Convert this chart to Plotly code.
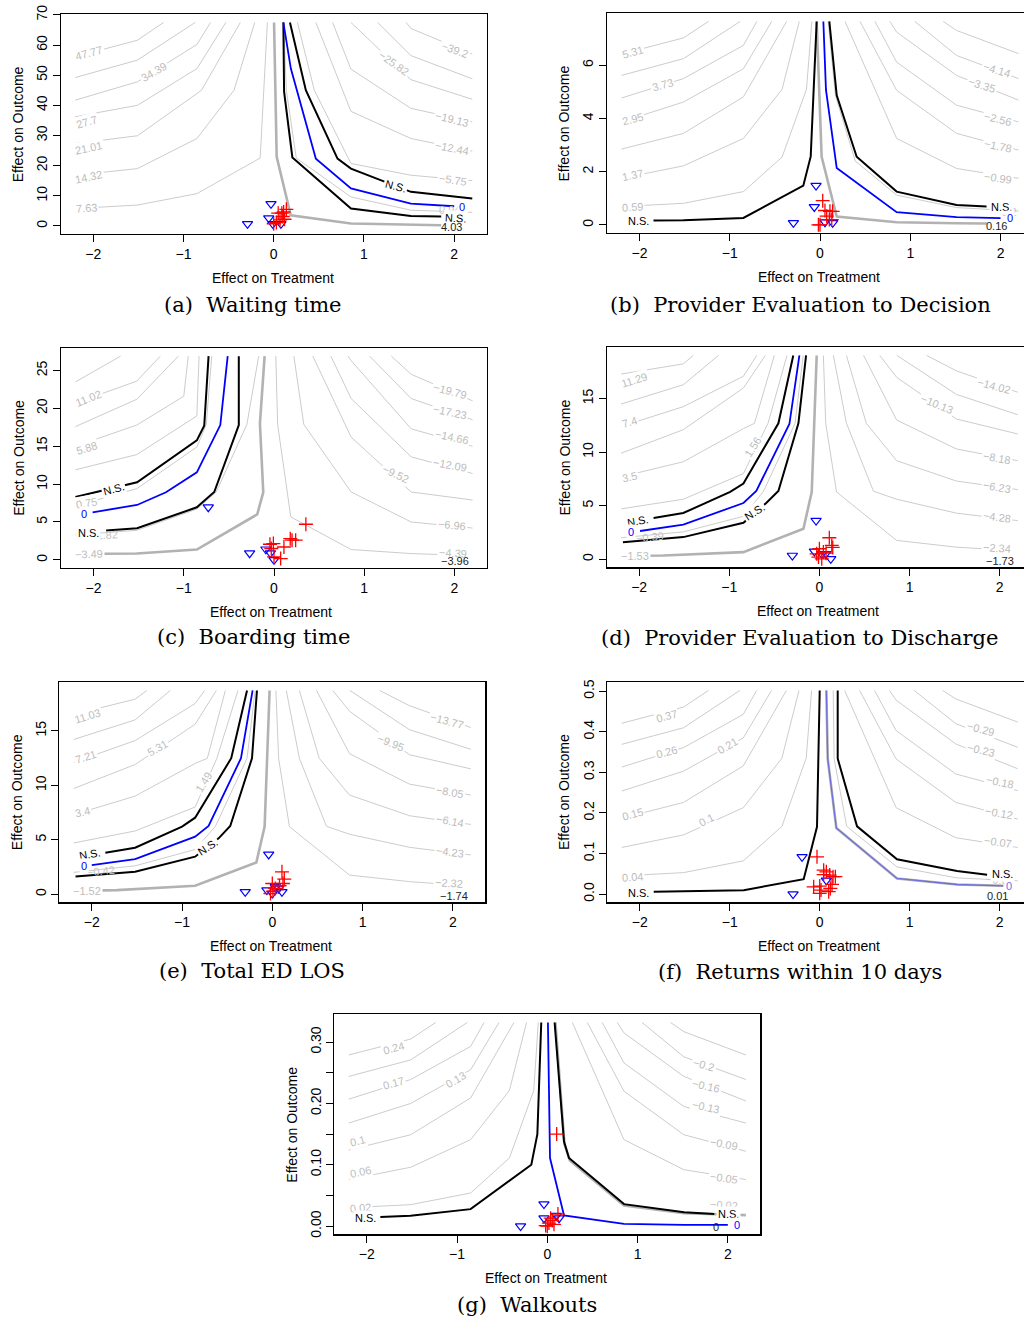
import plotly.graph_objects as go

W, H = 1024, 1320
SANS = "Liberation Sans, Arial, Helvetica, sans-serif"
SERIF = "DejaVu Serif, serif"

X_TICKS = [-2, -1, 0, 1, 2]
X_TICKTEXT = ["\u22122", "\u22121", "0", "1", "2"]

# ---------------- (a) Waiting time ----------------
A_GRAY = [
    ([-2.2, -1.51, -1.22], [56.1, 61.6, 67.5]),
    ([-2.2, -1.51, -0.87], [49.2, 55.0, 67.5]),
    ([-2.2, -1.51, -0.85, -0.70], [41.7, 47.8, 60.2, 67.5]),
    ([-2.2, -1.51, -0.85, -0.53], [36.2, 40.0, 52.2, 67.5]),
    ([-2.2, -1.51, -0.85, -0.80, -0.37], [27.3, 29.9, 43.9, 45.0, 67.5]),
    ([-2.2, -1.51, -0.85, -0.44, -0.21], [16.8, 19.0, 29.0, 45.0, 67.5]),
    ([-2.2, -1.51, -0.85, -0.15, -0.07], [5.75, 6.9, 10.7, 22.5, 67.5]),
    ([1.467, 1.52, 2.2], [67.5, 65.5, 57.0]),
    ([1.152, 1.52, 2.2], [67.5, 56.5, 48.8]),
    ([0.856, 1.52, 2.2], [67.5, 48.5, 42.0]),
    ([0.652, 0.856, 1.52, 2.2], [67.5, 52.0, 39.0, 34.5]),
    ([0.467, 0.856, 1.52, 2.2], [67.5, 38.0, 29.0, 24.8]),
    ([0.263, 0.45, 0.856, 1.52, 2.2], [67.5, 45.0, 20.7, 16.8, 15.0]),
    ([0.11, 0.14, 0.25, 0.856, 1.52, 2.2], [67.5, 45.0, 22.5, 9.6, 5.2, 4.5]),
]
A_THICK = ([0.004, 0.033, 0.189, 0.856, 1.856], [67.5, 22.9, 3.5, 0.77, 0.22])
A_BLUE = ([0.107, 0.19, 0.467, 0.856, 1.52, 2.0], [67.5, 52.2, 22.3, 12.4, 7.4, 6.5])
A_NS = [
    ([0.18, 0.356, 0.707, 0.856, 1.52, 2.2], [67.5, 45.0, 22.3, 19.0, 11.3, 9.1]),
    ([0.107, 0.115, 0.207, 0.856, 1.52, 1.856], [67.5, 44.5, 22.7, 5.75, 3.3, 3.1]),
]
A_RED_X = [0.14, 0.05, 0.10, 0.07, 0.0, 0.11, 0.03, 0.09, 0.12]
A_RED_Y = [5.5, 4.2, 3.1, 2.0, 0.7, 4.6, 1.1, 4.2, 2.2]
A_TRI_X = [-0.03, -0.29, -0.055, -0.01, 0.08]
A_TRI_Y = [7.3, 0.66, 2.6, 0.66, 0.66]
A_LABELS = [
    ("47.77", -2.05, 57.4, -15, "g"), ("34.39", -1.33, 51.2, -30, "g"),
    ("27.7", -2.075, 34.6, -17, "g"), ("21.01", -2.05, 25.8, -12, "g"),
    ("14.32", -2.05, 16.1, -12, "g"), ("7.63", -2.075, 5.8, -4, "g"),
    ("\u221239.2", 2.01, 58.4, 20, "g"), ("\u221225.82", 1.33, 54.0, 35, "g"),
    ("\u221219.13", 1.97, 35.4, 14, "g"), ("\u221212.44", 1.97, 25.8, 11, "g"),
    ("\u22125.75", 1.99, 15.3, 8, "g"), ("0.94", 1.95, 5.3, 0, "h"),
    ("N.S.", 1.35, 13.1, 15, "k"), ("0", 2.09, 6.1, 0, "b"),
    ("N.S.", 2.01, 2.5, 3, "k"), ("4.03", 1.97, -0.4, 0, "d"),
]

# ---------------- (b) Provider Evaluation to Decision ----------------
B_GRAY = [
    ([-2.2, -1.513, -1.236], [6.42, 7.03, 7.65]),
    ([-2.2, -1.513, -0.886], [5.62, 6.25, 7.65]),
    ([-2.2, -1.513, -0.849, -0.70], [4.77, 5.5, 6.75, 7.65]),
    ([-2.2, -1.513, -0.849, -0.535], [3.87, 4.62, 5.87, 7.65]),
    ([-2.2, -1.513, -0.849, -0.37], [2.85, 3.44, 4.81, 7.65]),
    ([-2.2, -1.513, -0.849, -0.42, -0.23], [1.75, 2.22, 3.25, 5.1, 7.65]),
    ([-2.2, -1.513, -0.849, -0.42, -0.15, -0.09], [0.69, 0.81, 1.25, 2.55, 5.1, 7.65]),
    ([1.365, 1.513, 2.2], [7.65, 7.31, 6.44]),
    ([1.05, 1.513, 2.2], [7.65, 6.37, 5.5]),
    ([0.775, 0.849, 1.513, 2.2], [7.65, 7.25, 5.62, 4.69]),
    ([0.609, 0.849, 1.513, 2.2], [7.65, 6.12, 4.5, 3.87]),
    ([0.443, 0.849, 1.513, 2.2], [7.65, 5.06, 3.44, 2.81]),
    ([0.277, 0.849, 1.513, 2.2], [7.65, 3.25, 2.12, 1.75]),
    ([0.09, 0.17, 0.39, 0.849, 1.513, 2.2], [7.65, 4.875, 2.4, 1.12, 0.65, 0.52]),
]
B_THICK = ([-0.037, 0.018, 0.185, 0.849, 1.513, 1.85], [7.65, 2.56, 0.31, 0.1, 0.06, 0.05])
B_BLUE = ([0.037, 0.066, 0.185, 0.849, 1.513, 2.0], [7.65, 5.075, 2.14, 0.475, 0.29, 0.25])
B_NS = [
    ([-1.845, -1.513, -0.849, -0.185, -0.103, -0.037], [0.16, 0.175, 0.26, 1.475, 2.575, 7.65]),
    ([0.103, 0.185, 0.406, 0.849, 1.513, 1.845], [7.65, 4.875, 2.56, 1.25, 0.75, 0.69]),
]
B_RED_X = [0.03, 0.055, 0.11, 0.14, 0.074, 0.103, 0.13, -0.018, 0.0]
B_RED_Y = [0.91, 0.54, 0.51, 0.51, 0.325, 0.2, 0.2, 0.0, 0.0]
B_TRI_X = [-0.044, -0.063, -0.295, 0.055, 0.14]
B_TRI_Y = [1.475, 0.675, 0.075, 0.1, 0.075]
B_LABELS = [
    ("5.31", -2.075, 6.5, -15, "g"), ("3.73", -1.75, 5.26, -15, "g"),
    ("2.95", -2.075, 4.0, -15, "g"), ("1.37", -2.075, 1.88, -12, "g"),
    ("0.59", -2.075, 0.67, -4, "g"),
    ("\u22124.14", 1.96, 5.83, 17, "g"), ("\u22123.35", 1.79, 5.26, 17, "g"),
    ("\u22122.56", 1.97, 4.0, 14, "g"), ("\u22121.78", 1.97, 2.95, 12, "g"),
    ("\u22120.99", 1.97, 1.76, 8, "g"), ("\u22120.2", 2.06, 0.5, 0, "h"),
    ("N.S.", -2.01, 0.14, 0, "k"), ("N.S.", 2.01, 0.66, 0, "k"),
    ("0", 2.1, 0.24, 0, "b"), ("0.16", 1.96, -0.05, 0, "d"),
]

# ---------------- (c) Boarding time ----------------
C_GRAY = [
    ([-2.2, -1.70], [23.5, 26.9]),
    ([-2.2, -1.52, -1.26], [20.7, 23.6, 26.9]),
    ([-2.2, -1.52, -1.06], [17.6, 21.2, 26.9]),
    ([-2.2, -1.52, -1.0, -0.95], [15.0, 17.8, 21.6, 26.9]),
    ([-2.2, -1.52, -0.855, -0.83], [11.9, 13.9, 19.0, 26.9]),
    ([-2.2, -1.52, -0.855, -0.75, -0.69], [7.1, 9.4, 14.9, 17.9, 26.9]),
    ([-2.2, -1.52, -0.855, -0.64, -0.30, -0.17], [3.3, 3.9, 6.7, 8.96, 17.9, 26.9]),
    ([1.30, 1.52, 2.2], [26.9, 24.5, 21.0]),
    ([1.06, 1.52, 2.2], [26.9, 21.3, 18.5]),
    ([0.82, 0.855, 1.52, 2.2], [26.9, 26.3, 17.3, 15.0]),
    ([0.63, 0.855, 1.52, 2.2], [26.9, 21.3, 13.6, 11.4]),
    ([0.43, 0.855, 1.52, 2.2], [26.9, 16.2, 8.96, 7.9]),
    ([0.22, 0.33, 0.855, 1.52, 2.2], [26.9, 17.9, 8.96, 5.0, 4.2]),
    ([0.02, 0.04, 0.186, 0.855, 1.52, 1.85], [26.9, 17.9, 5.67, 1.36, 0.83, 0.7]),
]
C_THICK = ([-2.2, -1.52, -0.855, -0.186, -0.119, -0.156, -0.104],
           [0.78, 0.83, 1.36, 6.0, 8.9, 18.0, 26.9])
C_BLUE = ([-2.01, -1.517, -1.197, -0.855, -0.595, -0.513], [6.28, 7.25, 8.92, 11.56, 17.8, 26.9])
C_NS = [
    ([-2.2, -1.517, -0.855, -0.773, -0.725], [8.3, 10.24, 15.77, 17.7, 26.9]),
    ([-1.86, -1.517, -0.855, -0.662, -0.39, -0.39], [3.87, 4.17, 6.94, 8.96, 17.8, 26.9]),
]
C_RED_X = [0.353, -0.045, -0.007, 0.11, 0.18, 0.2, 0.24, 0.074, 0.0, -0.03]
C_RED_Y = [4.7, 2.06, 2.15, 1.7, 2.8, 2.6, 2.6, 0.17, 0.4, 1.5]
C_TRI_X = [-0.728, -0.27, -0.09, -0.04, 0.0]
C_TRI_Y = [6.95, 0.88, 1.4, 0.9, 0.0]
C_LABELS = [
    ("11.02", -2.05, 21.4, -22, "g"), ("5.88", -2.075, 14.8, -17, "g"),
    ("0.75", -2.075, 7.45, -10, "g"), ("\u22121.82", -1.88, 3.3, -3, "h"),
    ("\u22123.49", -2.05, 0.8, -2, "g"),
    ("\u221219.79", 1.95, 22.3, 15, "g"), ("\u221217.23", 1.95, 19.5, 12, "g"),
    ("\u221214.66", 1.97, 16.2, 12, "g"), ("\u221212.09", 1.95, 12.5, 10, "g"),
    ("\u22129.52", 1.35, 11.4, 25, "g"), ("\u22126.96", 1.97, 4.6, 5, "g"),
    ("\u22124.39", 1.98, 0.9, 3, "g"),
    ("N.S.", -1.78, 9.4, -15, "k"), ("0", -2.1, 6.0, 0, "b"),
    ("N.S.", -2.06, 3.56, 0, "k"), ("\u22123.96", 2.01, -0.2, 0, "d"),
]

# ---------------- (d) Provider Evaluation to Discharge ----------------
D_GRAY = [
    ([-2.2, -1.51, -1.40], [17.3, 18.25, 19.04]),
    ([-2.2, -1.51, -1.12], [14.5, 16.3, 19.04]),
    ([-2.2, -1.51, -0.843, -0.695], [12.4, 14.25, 17.1, 19.04]),
    ([-2.2, -1.51, -0.843, -0.60], [9.9, 12.1, 16.0, 19.04]),
    ([-2.2, -1.51, -0.843, -0.72, -0.50], [7.7, 9.1, 12.2, 12.7, 19.04]),
    ([-2.2, -1.51, -0.843, -0.57, -0.36], [4.7, 5.6, 8.0, 12.7, 19.04]),
    ([-2.2, -1.51, -0.843, -0.62, -0.27, -0.18], [2.0, 2.55, 4.0, 6.35, 12.7, 19.04]),
    ([0.044, 0.07, 0.19, 0.857, 1.52, 1.82], [19.04, 12.7, 6.28, 1.75, 1.12, 0.97]),
    ([0.155, 0.30, 0.60, 0.857, 1.52, 2.2], [19.04, 12.7, 6.35, 5.6, 4.3, 3.6]),
    ([0.30, 0.52, 0.857, 1.52, 2.2], [19.04, 12.7, 9.2, 7.3, 6.5]),
    ([0.49, 0.857, 1.52, 2.2], [19.04, 13.0, 10.3, 9.2]),
    ([0.67, 0.857, 1.52, 2.2], [19.04, 17.0, 13.1, 11.7]),
    ([0.86, 1.52, 2.2], [19.04, 15.4, 13.5]),
    ([1.19, 1.52, 2.2], [19.04, 17.6, 15.6]),
]
D_THICK = ([-2.2, -1.73, -0.843, -0.177, -0.085, -0.03], [0.3, 0.34, 0.66, 2.84, 6.28, 19.04])
D_BLUE = ([-1.99, -1.51, -0.843, -0.70, -0.333, -0.222], [2.63, 3.22, 5.25, 6.375, 12.63, 19.04])
D_NS = [
    ([-1.84, -1.51, -0.99, -0.843, -0.455, -0.29], [3.84, 4.31, 6.28, 7.06, 12.7, 19.04]),
    ([-2.18, -1.51, -0.843, -0.59, -0.455, -0.233, -0.148], [1.59, 2.06, 3.4, 5.25, 6.375, 12.69, 19.04]),
]
D_RED_X = [0.11, 0.137, 0.148, 0.0, 0.044, 0.074, -0.01, 0.026, -0.03]
D_RED_Y = [2.0, 1.28, 1.1, 0.97, 0.66, 0.56, 0.19, 0.03, 0.5]
D_TRI_X = [-0.037, -0.30, -0.055, 0.026, 0.126, 0.07]
D_TRI_Y = [3.6, 0.34, 0.72, 0.5, 0.03, 0.5]
D_LABELS = [
    ("11.29", -2.05, 16.7, -17, "g"), ("7.4", -2.105, 12.8, -17, "g"),
    ("3.5", -2.105, 7.7, -13, "g"), ("1.56", -0.74, 10.5, -58, "g"),
    ("\u22120.39", -1.88, 2.1, -5, "h"), ("\u22121.53", -2.05, 0.28, 0, "g"),
    ("\u221214.02", 1.94, 16.2, 15, "g"), ("\u221210.13", 1.30, 14.5, 22, "g"),
    ("\u22128.18", 1.97, 9.5, 10, "g"), ("\u22126.23", 1.97, 6.75, 10, "g"),
    ("\u22124.28", 1.97, 3.9, 7, "g"), ("\u22122.34", 1.97, 1.0, 4, "g"),
    ("N.S.", -2.02, 3.6, -10, "k"), ("0", -2.09, 2.5, 0, "b"),
    ("N.S.", -0.72, 4.4, -33, "k"), ("\u22121.73", 2.0, -0.2, 0, "d"),
]

# ---------------- (e) Total ED LOS ----------------
E_GRAY = [
    ([-2.2, -1.52, -1.39], [16.5, 17.9, 18.7]),
    ([-2.2, -1.52, -1.13], [14.2, 16.0, 18.7]),
    ([-2.2, -1.52, -0.855, -0.75], [12.1, 14.1, 17.5, 18.7]),
    ([-2.2, -1.52, -0.855, -0.62], [9.7, 11.9, 15.6, 18.7]),
    ([-2.2, -1.52, -0.855, -0.72, -0.52], [7.3, 9.0, 12.0, 12.47, 18.7]),
    ([-2.2, -1.52, -0.855, -0.614, -0.38], [4.7, 5.8, 8.0, 12.47, 18.7]),
    ([-2.2, -1.52, -0.855, -0.63, -0.28, -0.19], [2.0, 2.6, 4.1, 6.23, 12.47, 18.7]),
    ([0.04, 0.07, 0.19, 0.855, 1.52, 1.82], [18.7, 12.47, 6.2, 1.75, 1.15, 0.97]),
    ([0.155, 0.30, 0.60, 0.855, 1.52, 2.2], [18.7, 12.47, 6.23, 5.5, 4.3, 3.6]),
    ([0.30, 0.52, 0.855, 1.52, 2.2], [18.7, 12.47, 9.1, 7.2, 6.4]),
    ([0.49, 0.855, 1.52, 2.2], [18.7, 12.9, 10.1, 9.1]),
    ([0.67, 0.855, 1.52, 2.2], [18.7, 16.8, 12.8, 11.5]),
    ([0.86, 1.52, 2.2], [18.7, 15.1, 13.3]),
    ([1.19, 1.52, 2.2], [18.7, 17.3, 15.3]),
]
E_THICK = ([-2.2, -1.72, -0.855, -0.177, -0.085, -0.03], [0.3, 0.37, 0.77, 2.91, 6.2, 18.7])
E_BLUE = ([-2.0, -1.52, -0.855, -0.706, -0.347, -0.218], [2.67, 3.22, 5.28, 6.26, 12.48, 18.7])
E_NS = [
    ([-1.85, -1.52, -1.0, -0.855, -0.455, -0.28], [3.8, 4.26, 6.2, 7.02, 12.48, 18.7]),
    ([-2.18, -1.52, -0.855, -0.595, -0.466, -0.225, -0.17], [1.63, 2.06, 3.44, 5.12, 6.26, 12.48, 18.7]),
]
E_RED_X = [0.107, 0.133, 0.118, 0.0, 0.033, 0.08, -0.02, 0.007]
E_RED_Y = [2.05, 1.38, 0.98, 0.98, 0.52, 0.77, 0.06, 0.28]
E_TRI_X = [-0.04, -0.30, -0.06, 0.0, 0.107, 0.033, 0.07]
E_TRI_Y = [3.65, 0.21, 0.37, 0.06, 0.21, 0.67, 0.52]
E_LABELS = [
    ("11.03", -2.05, 16.4, -17, "g"), ("7.21", -2.075, 12.6, -17, "g"),
    ("5.31", -1.27, 13.4, -30, "g"), ("3.4", -2.105, 7.5, -13, "g"),
    ("1.49", -0.76, 10.3, -58, "g"), ("\u22120.42", -1.9, 2.1, -5, "h"),
    ("\u22121.52", -2.05, 0.32, 0, "g"),
    ("\u221213.77", 1.94, 15.9, 15, "g"), ("\u22129.95", 1.32, 13.9, 22, "g"),
    ("\u22128.05", 1.97, 9.4, 10, "g"), ("\u22126.14", 1.97, 6.7, 10, "g"),
    ("\u22124.23", 1.97, 3.9, 7, "g"), ("\u22122.32", 1.96, 1.0, 4, "g"),
    ("N.S.", -2.02, 3.7, -10, "k"), ("0", -2.09, 2.6, 0, "b"),
    ("N.S.", -0.72, 4.35, -33, "k"), ("\u22121.74", 2.01, -0.15, 0, "d"),
]

# ---------------- (f) Returns within 10 days ----------------
F_GRAY = [
    ([-2.2, -1.513, -1.236], [0.421, 0.461, 0.502]),
    ([-2.2, -1.513, -0.886], [0.369, 0.41, 0.502]),
    ([-2.2, -1.513, -0.849, -0.70], [0.313, 0.361, 0.443, 0.502]),
    ([-2.2, -1.513, -0.849, -0.535], [0.254, 0.303, 0.385, 0.502]),
    ([-2.2, -1.513, -0.849, -0.37], [0.187, 0.226, 0.316, 0.502]),
    ([-2.2, -1.513, -0.849, -0.42, -0.23], [0.115, 0.146, 0.213, 0.335, 0.502]),
    ([-2.2, -1.513, -0.849, -0.42, -0.15, -0.09], [0.045, 0.053, 0.082, 0.167, 0.335, 0.502]),
    ([1.365, 1.513, 2.2], [0.502, 0.481, 0.424]),
    ([1.05, 1.513, 2.2], [0.502, 0.42, 0.362]),
    ([0.775, 0.849, 1.513, 2.2], [0.502, 0.478, 0.37, 0.309]),
    ([0.609, 0.849, 1.513, 2.2], [0.502, 0.403, 0.296, 0.255]),
    ([0.443, 0.849, 1.513, 2.2], [0.502, 0.333, 0.226, 0.185]),
    ([0.277, 0.849, 1.513, 2.2], [0.502, 0.213, 0.139, 0.115]),
    ([0.15, 0.16, 0.30, 0.859, 1.526, 2.2], [0.502, 0.334, 0.167, 0.067, 0.040, 0.033]),
]
F_THICK = ([0.074, 0.089, 0.185, 0.859, 1.526, 2.04], [0.502, 0.334, 0.163, 0.0386, 0.0238, 0.0205])
F_BLUE = ([0.074, 0.089, 0.185, 0.859, 1.526, 2.04], [0.502, 0.334, 0.163, 0.0386, 0.0238, 0.0205])
F_NS = [
    ([-1.844, -1.511, -0.844, -0.178, -0.03, 0.0], [0.0057, 0.0074, 0.0099, 0.037, 0.166, 0.502]),
    ([0.2, 0.2, 0.415, 0.859, 1.526, 1.86], [0.502, 0.334, 0.167, 0.086, 0.057, 0.048]),
]
F_RED_X = [-0.03, 0.044, 0.074, 0.111, 0.148, 0.174, -0.067, 0.0, 0.015, 0.118, 0.1, 0.0, 0.137, 0.044]
F_RED_Y = [0.092, 0.059, 0.055, 0.047, 0.043, 0.043, 0.018, 0.02, 0.01, 0.014, 0.006, 0.002, 0.024, 0.048]
F_TRI_X = [-0.196, -0.296, 0.074]
F_TRI_Y = [0.092, 0.0, 0.034]
F_LABELS = [
    ("0.37", -1.70, 0.439, -15, "g"), ("0.26", -1.70, 0.351, -15, "g"),
    ("0.21", -1.03, 0.365, -30, "g"), ("0.15", -2.075, 0.198, -15, "g"),
    ("0.1", -1.26, 0.182, -28, "g"), ("0.04", -2.075, 0.043, -4, "g"),
    ("\u22120.29", 1.79, 0.408, 15, "g"), ("\u22120.23", 1.79, 0.355, 13, "g"),
    ("\u22120.18", 2.0, 0.277, 12, "g"), ("\u22120.12", 1.99, 0.199, 10, "g"),
    ("\u22120.07", 1.98, 0.129, 8, "g"), ("\u22120.02", 2.0, 0.034, 3, "h"),
    ("N.S.", -2.01, 0.004, 0, "k"), ("N.S.", 2.03, 0.049, 0, "k"),
    ("0", 2.1, 0.02, 0, "lb"), ("0.01", 1.97, -0.004, 0, "d"),
]

# ---------------- (g) Walkouts ----------------
G_GRAY = [
    ([-2.2, -1.513, -1.236], [0.279, 0.305, 0.332]),
    ([-2.2, -1.513, -0.886], [0.244, 0.271, 0.332]),
    ([-2.2, -1.513, -0.849, -0.70], [0.207, 0.239, 0.293, 0.332]),
    ([-2.2, -1.513, -0.849, -0.535], [0.168, 0.2, 0.255, 0.332]),
    ([-2.2, -1.513, -0.849, -0.37], [0.124, 0.149, 0.209, 0.332]),
    ([-2.2, -1.513, -0.849, -0.42, -0.23], [0.076, 0.096, 0.141, 0.221, 0.332]),
    ([-2.2, -1.513, -0.849, -0.42, -0.15, -0.10], [0.03, 0.035, 0.054, 0.111, 0.221, 0.332]),
    ([1.365, 1.513, 2.2], [0.332, 0.317, 0.279]),
    ([1.05, 1.513, 2.2], [0.332, 0.276, 0.239]),
    ([0.775, 0.849, 1.513, 2.2], [0.332, 0.315, 0.244, 0.204]),
    ([0.609, 0.849, 1.513, 2.2], [0.332, 0.266, 0.195, 0.168]),
    ([0.443, 0.849, 1.513, 2.2], [0.332, 0.22, 0.149, 0.122]),
    ([0.277, 0.849, 1.513, 2.2], [0.332, 0.141, 0.092, 0.076]),
]
G_THICK = ([0.09, 0.19, 0.25, 0.85, 1.516, 2.2], [0.332, 0.134, 0.107, 0.0335, 0.021, 0.018])
G_BLUE = ([0.007, 0.03, 0.185, 0.85, 1.516, 2.0], [0.332, 0.111, 0.0174, 0.0038, 0.0022, 0.0022])
G_NS = [
    ([-1.85, -1.516, -0.85, -0.177, -0.11, -0.067], [0.0147, 0.0168, 0.0277, 0.1, 0.15, 0.332]),
    ([0.081, 0.185, 0.24, 0.85, 1.516, 1.85], [0.332, 0.138, 0.111, 0.0359, 0.0228, 0.0196]),
]
G_RED_X = [0.104, -0.018, 0.018, 0.055, 0.074, 0.037, 0.0, 0.118]
G_RED_Y = [0.15, 0.001, 0.005, 0.009, 0.003, 0.013, 0.0, 0.0196]
G_TRI_X = [-0.037, -0.296, -0.037, 0.10, 0.13]
G_TRI_Y = [0.036, 0.0, 0.013, 0.017, 0.013]
G_LABELS = [
    ("0.24", -1.70, 0.291, -15, "g"), ("0.17", -1.70, 0.233, -15, "g"),
    ("0.13", -1.02, 0.239, -30, "g"), ("0.1", -2.105, 0.139, -15, "g"),
    ("0.06", -2.075, 0.088, -12, "g"), ("0.02", -2.075, 0.029, -5, "g"),
    ("\u22120.2", 1.74, 0.263, 15, "g"), ("\u22120.16", 1.76, 0.228, 13, "g"),
    ("\u22120.13", 1.76, 0.195, 12, "g"), ("\u22120.09", 1.96, 0.134, 10, "g"),
    ("\u22120.05", 1.96, 0.079, 8, "g"), ("\u22120.02", 1.96, 0.034, 4, "h"),
    ("N.S.", -2.01, 0.014, 0, "k"), ("N.S.", 2.01, 0.019, 0, "k"),
    ("0", 1.87, -0.002, 0, "d"), ("0", 2.1, 0.002, 0, "b"),
]

# ---------------- layout of panels (pixel boxes on the page) ----------------
PANELS = [
    dict(data=(A_GRAY, A_THICK, A_BLUE, A_NS, A_RED_X, A_RED_Y, A_TRI_X, A_TRI_Y, A_LABELS),
         box=(60.7, 14.3, 486.7, 234.0), xr=(-2.36, 2.36), yr=(-2.7, 70.2),
         yt=[0, 10, 20, 30, 40, 50, 60, 70], ytt=None,
         cap="(a)\u00a0\u00a0Waiting time", cxy=(253, 304.5), xtxy=(272.5, 277.7), ytxy=(18.3, 124),
         blue="#0000ff"),
    dict(data=(B_GRAY, B_THICK, B_BLUE, B_NS, B_RED_X, B_RED_Y, B_TRI_X, B_TRI_Y, B_LABELS),
         box=(607.0, 13.3, 1024.0, 233.0), xr=(-2.36, 2.26), yr=(-0.306, 7.956),
         yt=[0, 2, 4, 6], ytt=None,
         cap="(b)\u00a0\u00a0Provider Evaluation to Decision", cxy=(800, 305), xtxy=(819, 276.7), ytxy=(564, 123.5),
         blue="#0000ff"),
    dict(data=(C_GRAY, C_THICK, C_BLUE, C_NS, C_RED_X, C_RED_Y, C_TRI_X, C_TRI_Y, C_LABELS),
         box=(61.0, 348.0, 487.0, 568.0), xr=(-2.36, 2.36), yr=(-1.076, 27.976),
         yt=[0, 5, 10, 15, 20, 25], ytt=None,
         cap="(c)\u00a0\u00a0Boarding time", cxy=(253, 636.7), xtxy=(271.3, 611.7), ytxy=(18.3, 457.5),
         blue="#0000ff"),
    dict(data=(D_GRAY, D_THICK, D_BLUE, D_NS, D_RED_X, D_RED_Y, D_TRI_X, D_TRI_Y, D_LABELS),
         box=(606.7, 347.3, 1024.0, 567.3), xr=(-2.36, 2.27), yr=(-0.762, 19.80),
         yt=[0, 5, 10, 15], ytt=None,
         cap="(d)\u00a0\u00a0Provider Evaluation to Discharge", cxy=(799, 637.7), xtxy=(818.3, 610.7), ytxy=(564, 457.5),
         blue="#0000ff"),
    dict(data=(E_GRAY, E_THICK, E_BLUE, E_NS, E_RED_X, E_RED_Y, E_TRI_X, E_TRI_Y, E_LABELS),
         box=(59.3, 682.3, 485.3, 902.3), xr=(-2.36, 2.36), yr=(-0.748, 19.45),
         yt=[0, 5, 10, 15], ytt=None,
         cap="(e)\u00a0\u00a0Total ED LOS", cxy=(252, 971), xtxy=(270.7, 945.7), ytxy=(16.7, 792.5),
         blue="#0000ff"),
    dict(data=(F_GRAY, F_THICK, F_BLUE, F_NS, F_RED_X, F_RED_Y, F_TRI_X, F_TRI_Y, F_LABELS),
         box=(607.3, 682.3, 1024.0, 902.3), xr=(-2.36, 2.27), yr=(-0.0201, 0.522),
         yt=[0, 0.1, 0.2, 0.3, 0.4, 0.5], ytt=["0.0", "0.1", "0.2", "0.3", "0.4", "0.5"],
         cap="(f)\u00a0\u00a0Returns within 10 days", cxy=(800, 971.7), xtxy=(818.8, 945.7), ytxy=(564, 792),
         blue="#7070dd"),
    dict(data=(G_GRAY, G_THICK, G_BLUE, G_NS, G_RED_X, G_RED_Y, G_TRI_X, G_TRI_Y, G_LABELS),
         box=(334.3, 1014.3, 760.3, 1234.3), xr=(-2.36, 2.36), yr=(-0.0133, 0.3453),
         yt=[0, 0.05, 0.10, 0.15, 0.20, 0.25, 0.30], ytt=["0.00", "", "0.10", "", "0.20", "", "0.30"],
         cap="(g)\u00a0\u00a0Walkouts", cxy=(526.5, 1305), xtxy=(545.7, 1278.3), ytxy=(291.7, 1125),
         blue="#0000ff"),
]

GRAY_LINE = "#cccccc"
THICK_COL = "#b2b2b2"
LABEL_COL = {"g": "#bdbdbd", "h": "#c4c4c4", "k": "#000000", "b": "#0000ff",
             "lb": "#7070dd", "d": "#222222"}

fig = go.Figure()
annotations = []
layout = dict(width=W, height=H, autosize=False, margin=dict(l=0, r=0, t=0, b=0, pad=0),
              paper_bgcolor="white", plot_bgcolor="white", showlegend=False,
              template="none", hovermode=False)


def px(x):
    return x / W


def py(y):
    return 1 - y / H


for i, p in enumerate(PANELS):
    gray, thick, blue, ns, rx, ry, tx, ty, labels = p["data"]
    xa = "x" if i == 0 else f"x{i + 1}"
    ya = "y" if i == 0 else f"y{i + 1}"
    L, T, R, B = p["box"]
    kw = dict(xaxis=xa, yaxis=ya, hoverinfo="skip", showlegend=False)

    for xs, ys in gray:
        fig.add_trace(go.Scatter(x=xs, y=ys, mode="lines",
                                 line=dict(color=GRAY_LINE, width=1), **kw))
    fig.add_trace(go.Scatter(x=thick[0], y=thick[1], mode="lines",
                             line=dict(color=THICK_COL, width=2.6), **kw))
    for xs, ys in ns:
        fig.add_trace(go.Scatter(x=xs, y=ys, mode="lines",
                                 line=dict(color="black", width=2), **kw))
    fig.add_trace(go.Scatter(x=blue[0], y=blue[1], mode="lines",
                             line=dict(color=p["blue"], width=1.8 if i != 5 else 1.3), **kw))
    fig.add_trace(go.Scatter(x=tx, y=ty, mode="markers",
                             marker=dict(symbol="triangle-down-open", size=9, color="#0000ff",
                                         line=dict(width=1.2, color="#0000ff")), **kw))
    fig.add_trace(go.Scatter(x=rx, y=ry, mode="markers",
                             marker=dict(symbol="cross-thin", size=10, color="red",
                                         line=dict(width=1.3, color="red")), **kw))

    axis_common = dict(showgrid=False, zeroline=False, showline=True, mirror=True,
                       linecolor="black", linewidth=1.2, ticks="outside", ticklen=7,
                       tickwidth=1, tickcolor="black", automargin=False,
                       tickfont=dict(family=SANS, size=14, color="black"))
    layout["xaxis" if i == 0 else f"xaxis{i + 1}"] = dict(
        domain=[px(L), px(R)], range=list(p["xr"]), anchor=ya,
        tickmode="array", tickvals=X_TICKS, ticktext=X_TICKTEXT, **axis_common)
    yax = dict(domain=[py(B), py(T)], range=list(p["yr"]), anchor=xa,
               tickmode="array", tickvals=p["yt"], tickangle=-90, **axis_common)
    if p["ytt"] is not None:
        yax["ticktext"] = p["ytt"]
    layout["yaxis" if i == 0 else f"yaxis{i + 1}"] = yax

    for text, x, y, ang, kind in labels:
        annotations.append(dict(
            text=text, x=x, y=y, xref=xa, yref=ya, showarrow=False, textangle=ang,
            font=dict(family=SANS, size=11, color=LABEL_COL[kind]),
            bgcolor="white" if kind not in ("d", "h") else "rgba(0,0,0,0)",
            borderpad=1,
            xanchor="center", yanchor="middle"))

    annotations.append(dict(text="Effect on Treatment", x=px(p["xtxy"][0]), y=py(p["xtxy"][1]),
                            xref="paper", yref="paper", showarrow=False,
                            font=dict(family=SANS, size=14, color="black"),
                            xanchor="center", yanchor="middle"))
    annotations.append(dict(text="Effect on Outcome", x=px(p["ytxy"][0]), y=py(p["ytxy"][1]),
                            xref="paper", yref="paper", showarrow=False, textangle=-90,
                            font=dict(family=SANS, size=14, color="black"),
                            xanchor="center", yanchor="middle"))
    annotations.append(dict(text=p["cap"], x=px(p["cxy"][0]), y=py(p["cxy"][1]),
                            xref="paper", yref="paper", showarrow=False,
                            font=dict(family=SERIF, size=21, color="black"),
                            xanchor="center", yanchor="middle"))

layout["annotations"] = annotations
fig.update_layout(**layout)
fig.write_html("out.html", config={"displayModeBar": False, "staticPlot": True},
               post_script="document.body.style.margin='0';document.body.style.overflow='hidden';")
